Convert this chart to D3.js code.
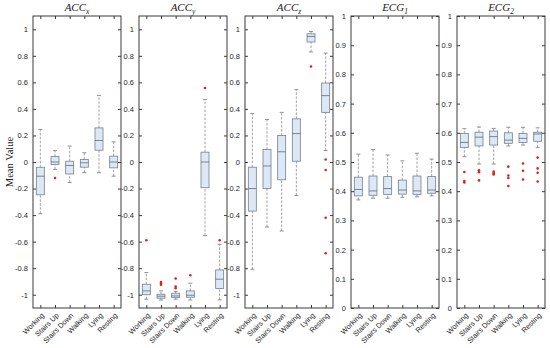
<!DOCTYPE html>
<html>
<head>
<meta charset="utf-8">
<script src="https://cdn.jsdelivr.net/npm/d3@7"></script>
<style>
  body { margin: 0; background: #fff; }
  svg { display: block; }
</style>
</head>
<body>
<div class="canvas"></div>
<script>
// Categories on the x axis of every panel
const categories = ['Working', 'Stairs Up', 'Stairs Down', 'Walking', 'Lying', 'Resting']

// Box stats per category: [lower whisker, q1, median, q3, upper whisker]
const accX = [
  [-0.39, -0.247, -0.107, -0.04, 0.245],
  [-0.056, -0.019, 0.0, 0.041, 0.086],
  [-0.155, -0.09, -0.026, 0.006, 0.12],
  [-0.08, -0.039, -0.006, 0.019, 0.07],
  [-0.081, 0.089, 0.162, 0.257, 0.502],
  [-0.107, -0.044, 0.0, 0.044, 0.152]
]
const accXOut = [[], [-0.12], [], [], [], []]

const accY = [
  [-1.034, -1.0, -0.971, -0.921, -0.833],
  [-1.04, -1.026, -1.011, -0.996, -0.971],
  [-1.034, -1.021, -1.009, -0.989, -0.976],
  [-1.04, -1.019, -1.004, -0.971, -0.913],
  [-0.555, -0.194, 0.0, 0.074, 0.47],
  [-1.039, -0.953, -0.883, -0.813, -0.62]
]
const accYOut = [[-0.59], [-0.904, -0.915, -0.925], [-0.878, -0.938, -0.951], [-0.853], [0.558], [-0.59]]

const accZ = [
  [-0.808, -0.37, -0.2, -0.039, 0.365],
  [-0.49, -0.2, -0.03, 0.094, 0.32],
  [-0.52, -0.134, 0.077, 0.2, 0.374],
  [-0.252, 0.006, 0.214, 0.325, 0.545],
  [0.829, 0.904, 0.946, 0.966, 0.983],
  [0.086, 0.374, 0.5, 0.595, 0.821]
]
const accZOut = [[], [], [], [], [0.72], [0.019, -0.06, -0.42, -0.688]]

const ecg1 = [
  [0.37, 0.384, 0.406, 0.448, 0.527],
  [0.376, 0.386, 0.401, 0.452, 0.543],
  [0.376, 0.389, 0.409, 0.45, 0.524],
  [0.379, 0.39, 0.404, 0.438, 0.504],
  [0.381, 0.389, 0.401, 0.452, 0.53],
  [0.384, 0.393, 0.404, 0.45, 0.51]
]
const ecg1Out = [[], [], [], [], [], []]

const ecg2 = [
  [0.518, 0.55, 0.567, 0.598, 0.614],
  [0.493, 0.555, 0.585, 0.602, 0.62],
  [0.493, 0.558, 0.587, 0.606, 0.615],
  [0.555, 0.564, 0.575, 0.6, 0.619],
  [0.558, 0.567, 0.581, 0.598, 0.619],
  [0.55, 0.571, 0.596, 0.602, 0.617]
]
const ecg2Out = [
  [0.466, 0.435, 0.43],
  [0.472, 0.465, 0.437],
  [0.467, 0.461, 0.457],
  [0.484, 0.454, 0.445, 0.418],
  [0.495, 0.47, 0.44],
  [0.515, 0.478, 0.463, 0.433]
]

// Tick values
const accTicks = [-1, -0.8, -0.6, -0.4, -0.2, 0, 0.2, 0.4, 0.6, 0.8, 1]
const ecgTicks = [0, 0.1, 0.2, 0.3, 0.4, 0.5, 0.6, 0.7, 0.8, 0.9, 1]

const panels = [
  {name: 'ACC', sub: 'x', stats: accX, out: accXOut, domain: [-1.1, 1.1], ticks: accTicks},
  {name: 'ACC', sub: 'y', stats: accY, out: accYOut, domain: [-1.1, 1.1], ticks: accTicks},
  {name: 'ACC', sub: 'z', stats: accZ, out: accZOut, domain: [-1.1, 1.1], ticks: accTicks},
  {name: 'ECG', sub: '1', stats: ecg1, out: ecg1Out, domain: [0, 1], ticks: ecgTicks},
  {name: 'ECG', sub: '2', stats: ecg2, out: ecg2Out, domain: [0, 1], ticks: ecgTicks}
]

// Dimensions
const width = 550
const height = 348
const plotTop = 16
const plotHeight = 292
const plotWidth = 88
const firstLeft = 33
const panelStep = 106
const boxWidth = 8
const capWidth = 4

const svg = d3.select('.canvas')
  .append('svg')
    .attr('width', width)
    .attr('height', height)

const frameColor = '#3a3a3a'
const tickFont = 'Liberation Sans, Arial, sans-serif'

// Y axis label
svg.append('text')
  .attr('transform', `translate(12.5, ${plotTop + plotHeight / 2}) rotate(-90)`)
  .attr('text-anchor', 'middle')
  .attr('font-family', 'Liberation Serif, serif')
  .attr('font-size', 10.5)
  .attr('fill', '#222')
  .text('Mean Value')

panels.forEach((p, i) => {
  const g = svg.append('g')
    .attr('transform', `translate(${firstLeft + i * panelStep}, ${plotTop})`)

  const x = d3.scalePoint()
    .domain(categories)
    .range([0, plotWidth])
    .padding(0.5)

  const y = d3.scaleLinear()
    .domain(p.domain)
    .range([plotHeight, 0])

  // Axes (ticks point inward)
  const yLeft = g.append('g')
    .call(d3.axisLeft(y).tickValues(p.ticks).tickSize(-3).tickSizeOuter(0).tickPadding(5)
      .tickFormat(d => d3.format('~g')(d).replace('−', '-')))
  const yRight = g.append('g')
    .attr('transform', `translate(${plotWidth}, 0)`)
    .call(d3.axisRight(y).tickValues(p.ticks).tickSize(-3).tickSizeOuter(0).tickFormat(''))
  const xTop = g.append('g')
    .call(d3.axisTop(x).tickSize(-3).tickSizeOuter(0).tickFormat(''))
  const xBottom = g.append('g')
    .attr('transform', `translate(0, ${plotHeight})`)
    .call(d3.axisBottom(x).tickSize(-3).tickSizeOuter(0))

  ;[yLeft, yRight, xTop, xBottom].forEach(a => {
    a.select('.domain').remove()
    a.selectAll('line').attr('stroke', frameColor)
  })

  yLeft.selectAll('text')
    .attr('font-family', tickFont)
    .attr('font-size', 7.5)
    .attr('fill', '#262626')

  xBottom.selectAll('text')
    .attr('font-family', tickFont)
    .attr('font-size', 7.3)
    .attr('fill', '#262626')
    .attr('text-anchor', 'end')
    .attr('x', 0)
    .attr('y', 0)
    .attr('dy', '0.35em')
    .attr('transform', 'translate(2, 6) rotate(-45)')

  // Boxes
  const boxes = g.selectAll('.box')
    .data(p.stats)
    .enter()
    .append('g')
      .attr('class', 'box')
      .attr('transform', (d, k) => `translate(${x(categories[k])}, 0)`)

  // Whiskers
  boxes.append('line')
    .attr('y1', d => y(d[0])).attr('y2', d => y(d[1]))
    .attr('stroke', '#8a8a8a').attr('stroke-width', 0.8).attr('stroke-dasharray', '2.5,1.5')
  boxes.append('line')
    .attr('y1', d => y(d[3])).attr('y2', d => y(d[4]))
    .attr('stroke', '#8a8a8a').attr('stroke-width', 0.8).attr('stroke-dasharray', '2.5,1.5')
  // Caps
  boxes.append('line')
    .attr('x1', -capWidth / 2).attr('x2', capWidth / 2)
    .attr('y1', d => y(d[0])).attr('y2', d => y(d[0]))
    .attr('stroke', '#777').attr('stroke-width', 0.8)
  boxes.append('line')
    .attr('x1', -capWidth / 2).attr('x2', capWidth / 2)
    .attr('y1', d => y(d[4])).attr('y2', d => y(d[4]))
    .attr('stroke', '#777').attr('stroke-width', 0.8)
  // Box
  boxes.append('rect')
    .attr('x', -boxWidth / 2)
    .attr('width', boxWidth)
    .attr('y', d => y(d[3]))
    .attr('height', d => y(d[1]) - y(d[3]))
    .attr('fill', '#dce8f5')
    .attr('stroke', '#74808e')
    .attr('stroke-width', 0.8)
  // Median
  boxes.append('line')
    .attr('x1', -boxWidth / 2).attr('x2', boxWidth / 2)
    .attr('y1', d => y(d[2])).attr('y2', d => y(d[2]))
    .attr('stroke', '#5f6b78').attr('stroke-width', 0.8)

  // Outliers
  const pts = []
  p.out.forEach((vals, k) => vals.forEach(v => pts.push({cat: categories[k], v})))
  g.selectAll('.outlier')
    .data(pts)
    .enter()
    .append('circle')
      .attr('class', 'outlier')
      .attr('cx', d => x(d.cat))
      .attr('cy', d => y(d.v))
      .attr('r', 1.3)
      .attr('fill', '#e0201c')

  // Frame
  g.append('rect')
    .attr('width', plotWidth)
    .attr('height', plotHeight)
    .attr('fill', 'none')
    .attr('stroke', frameColor)
    .attr('stroke-width', 1)

  // Title
  const title = g.append('text')
    .attr('x', plotWidth / 2)
    .attr('y', -5)
    .attr('text-anchor', 'middle')
    .attr('font-family', 'Liberation Serif, serif')
    .attr('font-style', 'italic')
    .attr('font-size', 11)
    .attr('fill', '#222')
  title.append('tspan').text(p.name)
  title.append('tspan')
    .attr('dy', 2.5)
    .attr('font-size', 7.5)
    .text(p.sub)
})
</script>
</body>
</html>
